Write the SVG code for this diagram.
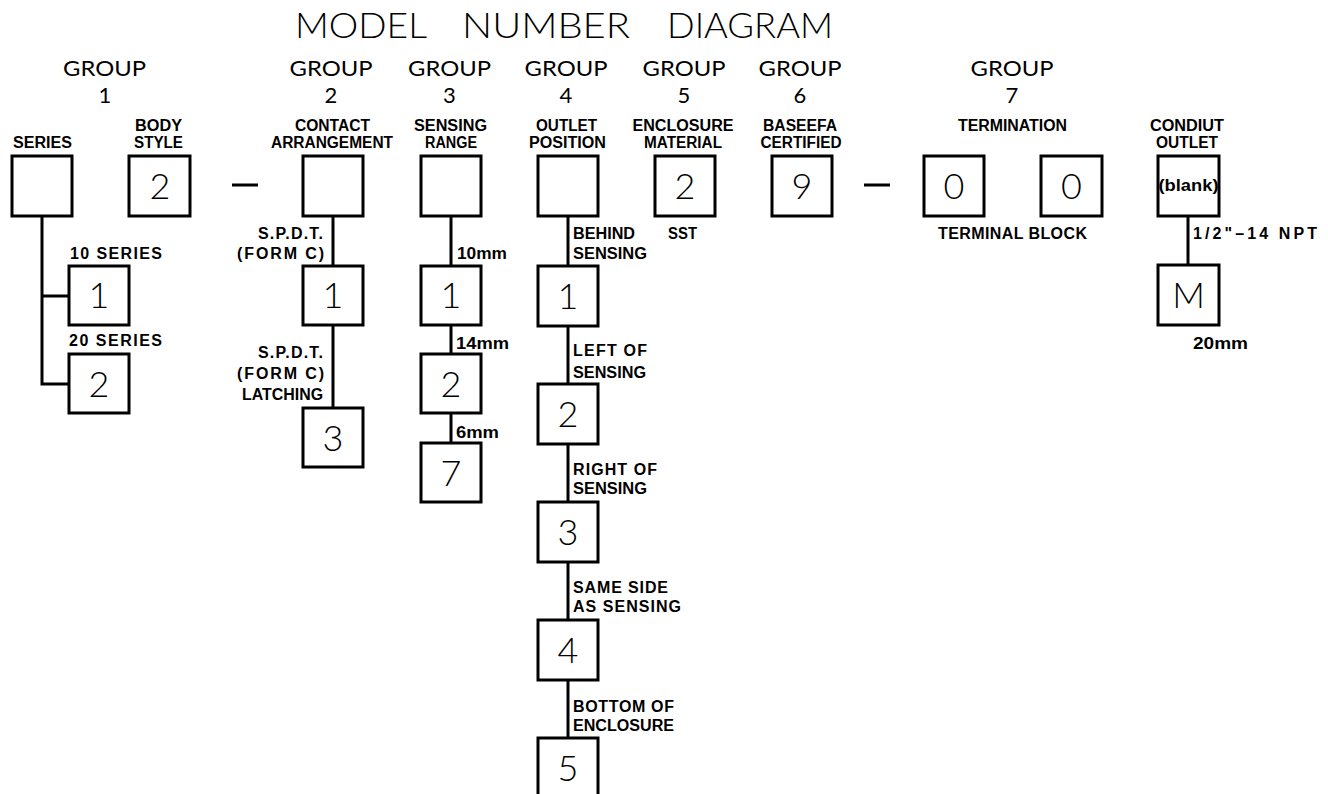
<svg xmlns="http://www.w3.org/2000/svg" width="1328" height="794" viewBox="0 0 1328 794">
<style>
.box{fill:none;stroke:#000;stroke-width:3}
.ln{fill:none;stroke:#000;stroke-width:3}
.t{font-family:"Liberation Sans",Arial,sans-serif;font-weight:bold;font-size:16px;fill:#000}
.m{text-anchor:middle}
.e{text-anchor:end}
.g{font-family:Lato,"Liberation Sans",Arial,sans-serif;font-weight:400;font-size:22px;text-anchor:middle;fill:#000}
.d{font-family:Lato,"Liberation Sans",Arial,sans-serif;font-weight:300;font-size:36px;text-anchor:middle;fill:#000}
.ti{font-family:Lato,"Liberation Sans",Arial,sans-serif;font-weight:300;font-size:35px;fill:#000}
</style>
<rect width="1328" height="794" fill="#fff"/>
<g id="title">
<text class="ti" x="295" y="38" textLength="132" lengthAdjust="spacingAndGlyphs">MODEL</text>
<text class="ti" x="462" y="38" textLength="168" lengthAdjust="spacingAndGlyphs">NUMBER</text>
<text class="ti" x="667" y="38" textLength="166" lengthAdjust="spacingAndGlyphs">DIAGRAM</text>
</g>

<g id="headers">
<text class="g" x="104.5" y="76" textLength="83" lengthAdjust="spacingAndGlyphs">GROUP</text><text class="g" x="105" y="103">1</text>
<text class="g" x="331" y="76" textLength="83" lengthAdjust="spacingAndGlyphs">GROUP</text><text class="g" x="331" y="103">2</text>
<text class="g" x="449.5" y="76" textLength="83" lengthAdjust="spacingAndGlyphs">GROUP</text><text class="g" x="449.5" y="103">3</text>
<text class="g" x="566" y="76" textLength="83" lengthAdjust="spacingAndGlyphs">GROUP</text><text class="g" x="566" y="103">4</text>
<text class="g" x="684" y="76" textLength="83" lengthAdjust="spacingAndGlyphs">GROUP</text><text class="g" x="684" y="103">5</text>
<text class="g" x="800" y="76" textLength="83" lengthAdjust="spacingAndGlyphs">GROUP</text><text class="g" x="800" y="103">6</text>
<text class="g" x="1012" y="76" textLength="83" lengthAdjust="spacingAndGlyphs">GROUP</text><text class="g" x="1012" y="103">7</text>
</g>

<g id="connectors">
<line class="ln" x1="232" y1="185" x2="258" y2="185"/>
<line class="ln" x1="864" y1="185" x2="890" y2="185"/>
<polyline class="ln" points="42,216 42,384 69,384"/>
<line class="ln" x1="42" y1="296" x2="69" y2="296"/>
<line class="ln" x1="333" y1="216" x2="333" y2="266"/>
<line class="ln" x1="333" y1="326" x2="333" y2="408"/>
<line class="ln" x1="451" y1="216" x2="451" y2="266"/>
<line class="ln" x1="451" y1="326" x2="451" y2="354"/>
<line class="ln" x1="451" y1="414" x2="451" y2="443"/>
<line class="ln" x1="568" y1="216" x2="568" y2="266"/>
<line class="ln" x1="568" y1="326" x2="568" y2="384"/>
<line class="ln" x1="568" y1="444" x2="568" y2="502"/>
<line class="ln" x1="568" y1="562" x2="568" y2="620"/>
<line class="ln" x1="568" y1="680" x2="568" y2="738"/>
<line class="ln" x1="1188" y1="216" x2="1188" y2="265"/>
</g>

<g id="series">
<text class="t m" x="42.5" y="148" textLength="59" lengthAdjust="spacingAndGlyphs">SERIES</text>
<rect class="box" x="12" y="156" width="60" height="60"/>
</g>
<g id="series-10">
<text class="t" x="70" y="259" textLength="92" lengthAdjust="spacing">10 SERIES</text>
<rect class="box" x="69" y="266" width="60" height="59"/>
<text class="d" x="99" y="308">1</text>
</g>
<g id="series-20">
<text class="t" x="69" y="346" textLength="93" lengthAdjust="spacing">20 SERIES</text>
<rect class="box" x="69" y="354" width="60" height="59"/>
<text class="d" x="99" y="397">2</text>
</g>

<g id="body-style">
<text class="t m" x="158.5" y="131" textLength="47" lengthAdjust="spacingAndGlyphs">BODY</text>
<text class="t m" x="158.5" y="148" textLength="49" lengthAdjust="spacingAndGlyphs">STYLE</text>
<rect class="box" x="129" y="156" width="61" height="60"/>
<text class="d" x="160" y="199">2</text>
</g>

<g id="contact">
<text class="t m" x="332.5" y="131" textLength="75" lengthAdjust="spacingAndGlyphs">CONTACT</text>
<text class="t m" x="332" y="148" textLength="122" lengthAdjust="spacingAndGlyphs">ARRANGEMENT</text>
<rect class="box" x="303" y="156" width="60" height="60"/>
</g>
<g id="contact-1">
<text class="t e" x="323" y="239" textLength="65" lengthAdjust="spacing">S.P.D.T.</text>
<text class="t e" x="324" y="259" textLength="87" lengthAdjust="spacing">(FORM C)</text>
<rect class="box" x="303" y="266" width="60" height="59"/>
<text class="d" x="333" y="308">1</text>
</g>
<g id="contact-3">
<text class="t e" x="323" y="358" textLength="65" lengthAdjust="spacing">S.P.D.T.</text>
<text class="t e" x="324" y="379" textLength="87" lengthAdjust="spacing">(FORM C)</text>
<text class="t e" x="323" y="400" textLength="81" lengthAdjust="spacingAndGlyphs">LATCHING</text>
<rect class="box" x="303" y="408" width="60" height="59"/>
<text class="d" x="333" y="451">3</text>
</g>

<g id="sensing">
<text class="t m" x="450.5" y="131" textLength="73" lengthAdjust="spacingAndGlyphs">SENSING</text>
<text class="t m" x="451" y="148" textLength="52" lengthAdjust="spacingAndGlyphs">RANGE</text>
<rect class="box" x="421" y="156" width="60" height="60"/>
</g>
<g id="sensing-1">
<text class="t" x="457" y="259" textLength="50" lengthAdjust="spacingAndGlyphs">10mm</text>
<rect class="box" x="421" y="266" width="60" height="59"/>
<text class="d" x="451" y="308">1</text>
</g>
<g id="sensing-2">
<text class="t" x="456" y="349" textLength="53" lengthAdjust="spacingAndGlyphs">14mm</text>
<rect class="box" x="421" y="354" width="60" height="59"/>
<text class="d" x="451" y="397">2</text>
</g>
<g id="sensing-7">
<text class="t" x="456" y="438" textLength="43" lengthAdjust="spacingAndGlyphs">6mm</text>
<rect class="box" x="421" y="443" width="60" height="59"/>
<text class="d" x="451" y="486">7</text>
</g>

<g id="outlet">
<text class="t m" x="566.5" y="131" textLength="61" lengthAdjust="spacingAndGlyphs">OUTLET</text>
<text class="t m" x="567.5" y="148" textLength="77" lengthAdjust="spacingAndGlyphs">POSITION</text>
<rect class="box" x="538" y="156" width="60" height="60"/>
</g>
<g id="outlet-1">
<text class="t" x="573" y="239" textLength="62" lengthAdjust="spacingAndGlyphs">BEHIND</text>
<text class="t" x="573" y="259" textLength="74" lengthAdjust="spacingAndGlyphs">SENSING</text>
<rect class="box" x="538" y="266" width="60" height="60"/>
<text class="d" x="568" y="309">1</text>
</g>
<g id="outlet-2">
<text class="t" x="573" y="356" textLength="74" lengthAdjust="spacing">LEFT OF</text>
<text class="t" x="573" y="378" textLength="73" lengthAdjust="spacingAndGlyphs">SENSING</text>
<rect class="box" x="538" y="384" width="60" height="60"/>
<text class="d" x="568" y="427">2</text>
</g>
<g id="outlet-3">
<text class="t" x="573" y="475" textLength="84" lengthAdjust="spacing">RIGHT OF</text>
<text class="t" x="573" y="494" textLength="74" lengthAdjust="spacingAndGlyphs">SENSING</text>
<rect class="box" x="538" y="502" width="60" height="60"/>
<text class="d" x="568" y="545">3</text>
</g>
<g id="outlet-4">
<text class="t" x="573" y="593" textLength="95" lengthAdjust="spacing">SAME SIDE</text>
<text class="t" x="573" y="612" textLength="108" lengthAdjust="spacing">AS SENSING</text>
<rect class="box" x="538" y="620" width="60" height="60"/>
<text class="d" x="568" y="663">4</text>
</g>
<g id="outlet-5">
<text class="t" x="573" y="712" textLength="101" lengthAdjust="spacing">BOTTOM OF</text>
<text class="t" x="573" y="731" textLength="101" lengthAdjust="spacingAndGlyphs">ENCLOSURE</text>
<rect class="box" x="538" y="738" width="60" height="60"/>
<text class="d" x="568" y="781">5</text>
</g>

<g id="enclosure">
<text class="t m" x="683" y="131" textLength="101" lengthAdjust="spacingAndGlyphs">ENCLOSURE</text>
<text class="t m" x="683" y="148" textLength="78" lengthAdjust="spacingAndGlyphs">MATERIAL</text>
<rect class="box" x="655" y="156" width="60" height="60"/>
<text class="d" x="685" y="199">2</text>
<text class="t" x="668" y="239" textLength="29" lengthAdjust="spacingAndGlyphs">SST</text>
</g>

<g id="baseefa">
<text class="t m" x="800" y="131" textLength="74" lengthAdjust="spacingAndGlyphs">BASEEFA</text>
<text class="t m" x="801" y="148" textLength="81" lengthAdjust="spacingAndGlyphs">CERTIFIED</text>
<rect class="box" x="772" y="156" width="60" height="60"/>
<text class="d" x="802" y="199">9</text>
</g>

<g id="termination">
<text class="t m" x="1012.5" y="131" textLength="109" lengthAdjust="spacingAndGlyphs">TERMINATION</text>
<rect class="box" x="924" y="156" width="60" height="60"/>
<text class="d" x="954" y="199">0</text>
<rect class="box" x="1041" y="156" width="61" height="60"/>
<text class="d" x="1071.5" y="199">0</text>
<text class="t" x="938" y="239" textLength="149" lengthAdjust="spacing">TERMINAL BLOCK</text>
</g>

<g id="conduit">
<text class="t m" x="1187" y="131" textLength="74" lengthAdjust="spacingAndGlyphs">CONDIUT</text>
<text class="t m" x="1187" y="148" textLength="62" lengthAdjust="spacingAndGlyphs">OUTLET</text>
<rect class="box" x="1158" y="156" width="61" height="60"/>
<text class="t m" x="1188.5" y="191" textLength="60" lengthAdjust="spacingAndGlyphs">(blank)</text>
</g>
<g id="conduit-m">
<text class="t" x="1193" y="239" textLength="124" lengthAdjust="spacing">1/2"–14 NPT</text>
<rect class="box" x="1158" y="265" width="61" height="60"/>
<text class="d" x="1188.5" y="308">M</text>
<text class="t" x="1193" y="349" textLength="55" lengthAdjust="spacingAndGlyphs">20mm</text>
</g>
</svg>
